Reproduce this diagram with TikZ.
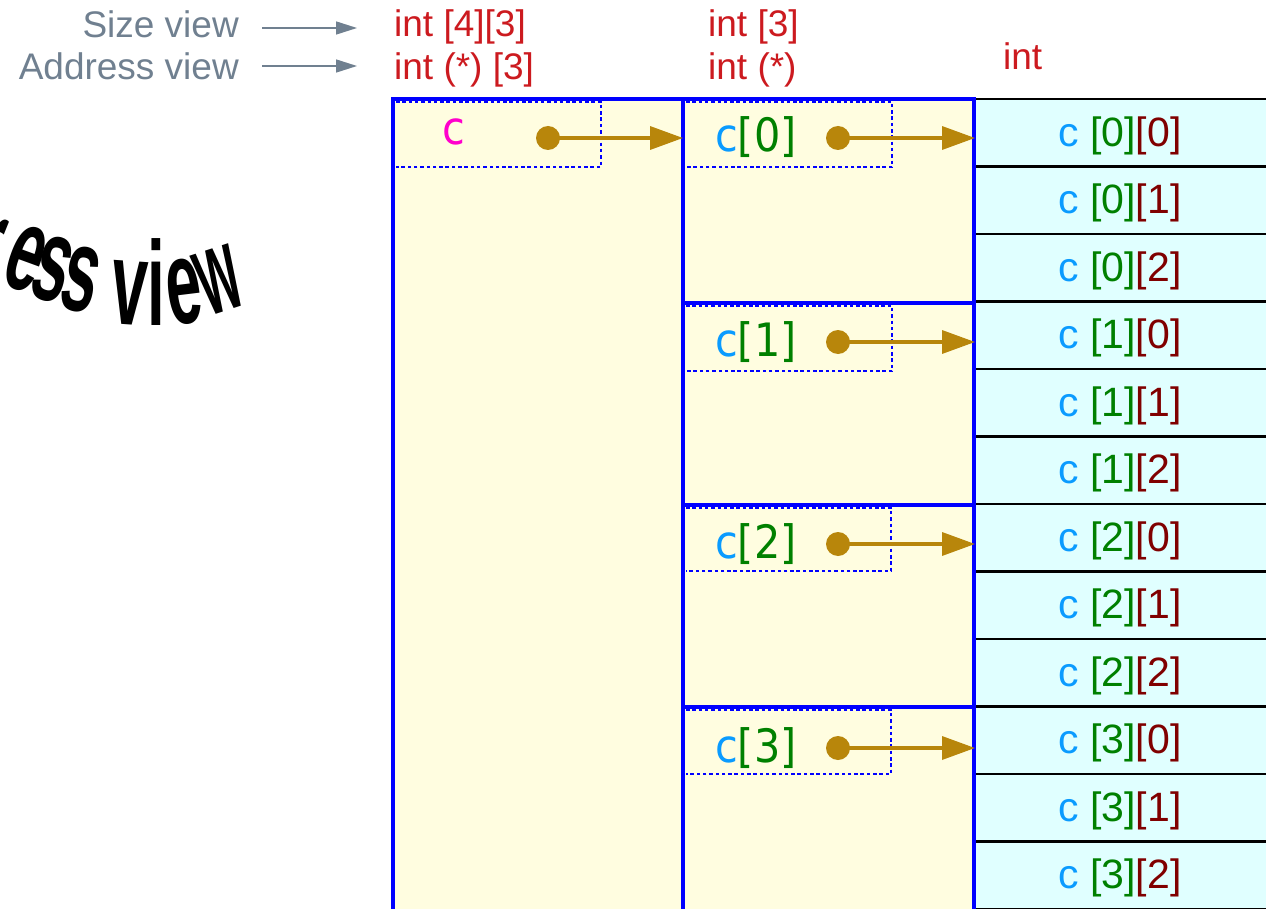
\documentclass[tikz,border=0pt]{standalone}
\usepackage{fontspec}
\setmainfont{Liberation Sans}
\newfontfamily\condfam[FakeStretch=0.9]{DejaVu Sans}
\newfontfamily\warpfam[FakeStretch=0.53]{Liberation Sans}
\usetikzlibrary{arrows.meta}
\definecolor{lblgray}{HTML}{708090}
\definecolor{tred}{HTML}{CC1A1F}
\definecolor{cmag}{HTML}{FF00CC}
\definecolor{cblue}{HTML}{0A9BFF}
\definecolor{cgreen}{HTML}{008000}
\definecolor{cdred}{HTML}{800000}
\definecolor{gold}{HTML}{B8860B}
\definecolor{boxyellow}{HTML}{FFFDE0}
\definecolor{cellcyan}{HTML}{E0FFFF}
\begin{document}
\begin{tikzpicture}[x=1pt,y=1pt,
  lbl/.style={inner sep=0, text=lblgray, font=\fontsize{37}{37}\selectfont},
  rtxt/.style={inner sep=0, text=tred, font=\fontsize{37}{37}\selectfont},
  celltext/.style={inner sep=0, font=\fontsize{41}{41}\selectfont},
  cond/.style={inner sep=0, font=\condfam\fontsize{46}{46}\selectfont},
  warp/.style={inner sep=0, anchor=base, font=\warpfam\bfseries\fontsize{120}{120}\selectfont},
  cellbox/.style={draw=black, line width=2.7, fill=cellcyan, inner sep=0, outer sep=0, minimum width=300, minimum height=67.5, anchor=north west},
  bluebox/.style={draw=blue, line width=3.8, fill=boxyellow, inner sep=0, outer sep=0, anchor=north west},
  innerdash/.style={draw=blue, line width=1.7, dash pattern=on 3.5pt off 2.8pt},
  grayarrow/.style={draw=lblgray, line width=1.5, -{Triangle[length=21,width=13]}},
  ptr/.style={draw=gold, line width=3.5, -{Triangle[length=33,width=23]}},
  dot/.style={circle, fill=gold, inner sep=0, minimum size=24}
]
\useasboundingbox (0,0) rectangle (1266,-909);
\clip (0,0) rectangle (1266,-909);

% warped fragment of a curved title (letters rotated about their x-height centre)
\node[warp, rotate=-22] (w1) at ([shift={(-112:30)}] -14,-249) {r};
\node[warp, rotate=-20] (w2) at ([shift={(-110:30)}] 25,-260) {e};
\node[warp, rotate=-17] (w3) at ([shift={(-107:30)}] 52,-271) {s};
\node[warp, rotate=-13] (w4) at ([shift={(-103:30)}] 80,-281) {s};
\node[warp, rotate=-4] (w5) at ([shift={(-94:30)}] 129,-295) {v};
\node[warp, rotate=0] (w6) at ([shift={(-90:30)}] 156,-295) {i};
\node[warp, rotate=7] (w7) at ([shift={(-83:30)}] 184,-294) {e};
\node[warp, rotate=18] (w8) at ([shift={(-72:30)}] 220,-282) {\scalebox{0.82}[1]{w}};

% top labels
\node[lbl, anchor=base east] (sizel) at (239,-38) {Size view};
\node[lbl, anchor=base east] (addrl) at (239,-80) {Address view};
\coordinate (sva) at (262,-28);
\coordinate (svb) at (357,-28);
\coordinate (ava) at (262,-66);
\coordinate (avb) at (357,-66);
\draw[grayarrow] (sva) -- (svb);
\draw[grayarrow] (ava) -- (avb);
\node[rtxt, anchor=base west] (ty1) at (394,-37) {int [4][3]};
\node[rtxt, anchor=base west] (ty2) at (394,-80) {int (*) [3]};
\node[rtxt, anchor=base west] (ty3) at (708,-37) {int [3]};
\node[rtxt, anchor=base west] (ty4) at (708,-80) {int (*)};
\node[rtxt, anchor=base west] (ty5) at (1003,-70) {int};

% right column cells
\foreach \i in {0,...,3}{
  \foreach \j in {0,1,2}{
    \pgfmathsetmacro\yy{-99-(3*\i+\j)*67.5}
    \pgfmathsetmacro\yc{-99-(3*\i+\j)*67.5-33.75-3}
    \node[cellbox] (cell\i\j) at (975,\yy) {};
    \node[celltext] (t\i\j) at (1120,\yc) {\textcolor{cblue}{c} \textcolor{cgreen}{[\i]}\textcolor{cdred}{[\j]}};
  }
}

% blue boxes
\node[bluebox, minimum width=290, minimum height=820] (outer) at (393,-99) {};
\node[bluebox, minimum width=291, minimum height=204] (b0) at (683,-99) {};
\node[bluebox, minimum width=291, minimum height=202] (b1) at (683,-303) {};
\node[bluebox, minimum width=291, minimum height=202] (b2) at (683,-505) {};
\node[bluebox, minimum width=291, minimum height=212] (b3) at (683,-707) {};

% dashed inner boxes
\draw[innerdash] (396,-102) -- (601,-102) -- (601,-167) -- (396,-167);
\draw[innerdash] (686,-102) -- (892,-102) -- (892,-167) -- (686,-167);
\draw[innerdash] (686,-306) -- (892,-306) -- (892,-371) -- (686,-371);
\draw[innerdash] (686,-508) -- (891,-508) -- (891,-571) -- (686,-571);
\draw[innerdash] (686,-710) -- (891,-710) -- (891,-774) -- (686,-774);

% names
\node[cond, text=cmag, anchor=base] (cname) at (454,-145) {c};
\node[cond, anchor=base west] (n0) at (715,-152) {\textcolor{cblue}{c}\textcolor{cgreen}{[0]}};
\node[cond, anchor=base west] (n1) at (715,-356) {\textcolor{cblue}{c}\textcolor{cgreen}{[1]}};
\node[cond, anchor=base west] (n2) at (715,-558) {\textcolor{cblue}{c}\textcolor{cgreen}{[2]}};
\node[cond, anchor=base west] (n3) at (715,-762) {\textcolor{cblue}{c}\textcolor{cgreen}{[3]}};

% pointers
\node[dot] (dc) at (548,-138) {};
\node[dot] (d0) at (838,-138) {};
\node[dot] (d1) at (838,-342) {};
\node[dot] (d2) at (838,-544) {};
\node[dot] (d3) at (838,-748) {};
\draw[ptr] (dc.center) -- (dc -| b0.west);
\draw[ptr] (d0.center) -- (d0 -| cell00.west);
\draw[ptr] (d1.center) -- (d1 -| cell10.west);
\draw[ptr] (d2.center) -- (d2 -| cell20.west);
\draw[ptr] (d3.center) -- (d3 -| cell30.west);
\end{tikzpicture}
\end{document}
